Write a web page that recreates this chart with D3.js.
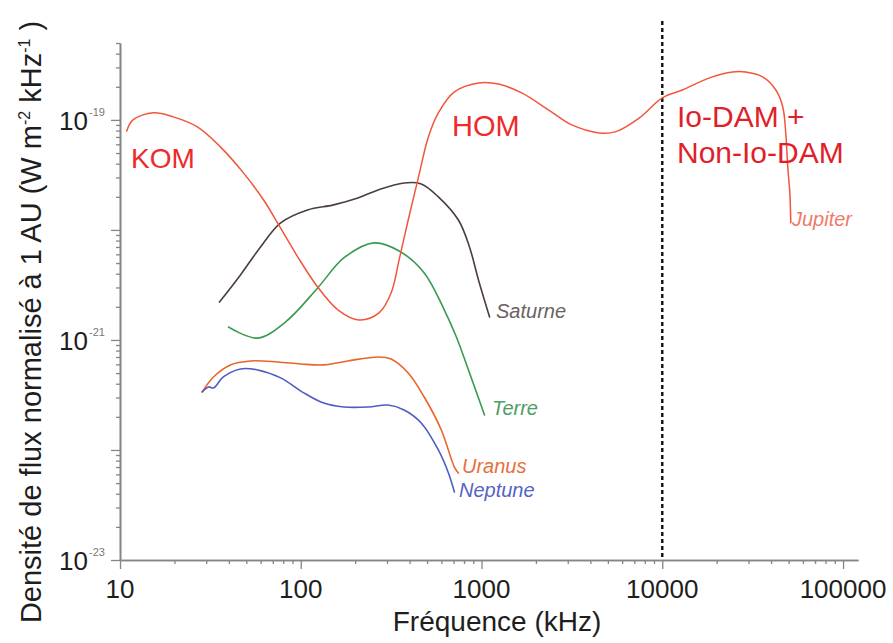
<!DOCTYPE html>
<html><head><meta charset="utf-8">
<script src="https://cdn.jsdelivr.net/npm/d3@7"></script>
<style>body{margin:0;background:#fff} text{font-family:"Liberation Sans",Arial,Helvetica,sans-serif}</style>
</head><body><svg id="c" width="893" height="643"></svg>
<script>
// ---- data (frequency in kHz, flux density in W m^-2 kHz^-1 at 1 AU) ----
const jupiterFreq = [10.9, 11.8, 15.3, 19.7, 26.8, 35.9, 48.2, 62.3, 75.5, 96.2, 124, 161, 210, 271, 316, 350, 393, 447, 508, 577, 708, 962, 1242, 1668, 2355, 3162, 4467, 5479, 7447, 10000, 12915, 18240, 24470, 28900, 35940, 42490, 46420, 48200, 49450, 50770, 51400];
const jupiterFlux = [7.94e-20, 1.0e-19, 1.16e-19, 1.065e-19, 8.64e-20, 5.69e-20, 3.30e-20, 1.87e-20, 1.11e-20, 5.69e-21, 3.03e-21, 1.87e-21, 1.52e-21, 1.76e-21, 2.67e-21, 5.34e-21, 1.23e-20, 2.97e-20, 7.0e-20, 1.16e-19, 1.80e-19, 2.17e-19, 2.12e-19, 1.76e-19, 1.23e-19, 9.0e-20, 7.62e-20, 7.78e-20, 1.04e-19, 1.585e-19, 1.87e-19, 2.41e-19, 2.73e-19, 2.73e-19, 2.46e-19, 1.87e-19, 1.31e-19, 7.62e-20, 3.74e-20, 2.17e-20, 1.16e-20];

const saturneFreq = [35.5, 46.4, 59.9, 77.4, 109, 152, 207, 268, 373, 464, 577, 745, 858, 962, 1108];
const saturneFlux = [2.21e-21, 3.90e-21, 7.0e-21, 1.16e-20, 1.52e-20, 1.69e-20, 1.95e-20, 2.31e-20, 2.67e-20, 2.62e-20, 2.0e-20, 1.23e-20, 7.0e-21, 3.51e-21, 1.62e-21];

const terreFreq = [39.8, 57.7, 82.5, 124, 173, 254, 350, 482, 623, 726, 847, 1039];
const terreFlux = [1.31e-21, 1.04e-21, 1.46e-21, 2.97e-21, 5.56e-21, 7.62e-21, 6.44e-21, 4.07e-21, 1.87e-21, 1.065e-21, 5.34e-22, 2.08e-22];

const uranusFreq = [28.5, 32.9, 40.8, 52.7, 74.5, 100, 134, 182, 268, 316, 393, 482, 599, 708, 745];
const uranusFlux = [3.37e-22, 4.61e-22, 5.93e-22, 6.44e-22, 6.31e-22, 6.05e-22, 5.93e-22, 6.44e-22, 7.0e-22, 6.71e-22, 5.01e-22, 3.03e-22, 1.52e-22, 7.0e-23, 6.18e-23];

const neptuneFreq = [28.5, 30.9, 32.9, 37.3, 46.4, 57.7, 77.4, 104, 134, 173, 236, 304, 373, 464, 577, 656, 708];
const neptuneFlux = [3.37e-22, 3.74e-22, 3.66e-22, 4.61e-22, 5.45e-22, 5.34e-22, 4.52e-22, 3.30e-22, 2.67e-22, 2.46e-22, 2.46e-22, 2.56e-22, 2.31e-22, 1.76e-22, 1.0e-22, 6.18e-23, 4.15e-23];

const xTickValues = [10, 100, 1000, 10000, 100000];
const xTickLabels = ["10", "100", "1000", "10000", "100000"];
const yTickExponents = [-19, -21, -23];
const dividerFreq = 10000;

// ---- drawing ----
const svg = d3.select("#c");
const x = d3.scaleLog().domain([10, 121000]).range([120, 858]);
const y = d3.scaleLog().domain([1e-23, 5e-19]).range([560, 43]);

const axisColor = "#858585";

const xMinor = [];
for (let e = 1; e <= 4; e++) for (let k = 2; k <= 9; k++) xMinor.push(k * Math.pow(10, e));
const yMajor = [1e-19, 1e-20, 1e-21, 1e-22, 1e-23];
const yMinor = [];
for (let e = -23; e <= -20; e++) for (let k = 2; k <= 9; k++) yMinor.push(k * Math.pow(10, e));
[2e-19, 3e-19, 4e-19, 5e-19].forEach(v => yMinor.push(v));

function styleAxis(g) {
  g.selectAll("path.domain").attr("stroke", axisColor).attr("stroke-width", 1.6);
  g.selectAll(".tick line").attr("stroke", axisColor).attr("stroke-width", 1.3);
  g.selectAll(".tick text").remove();
}

svg.append("g").attr("transform", "translate(0,560)")
  .call(d3.axisBottom(x).tickValues(xMinor).tickSize(4).tickSizeOuter(0).tickFormat(""))
  .call(styleAxis);
svg.append("g").attr("transform", "translate(0,560)")
  .call(d3.axisBottom(x).tickValues(xTickValues).tickSize(9).tickSizeOuter(0).tickFormat(""))
  .call(styleAxis);
svg.append("g").attr("transform", "translate(120,0)")
  .call(d3.axisLeft(y).tickValues(yMinor).tickSize(4).tickSizeOuter(0).tickFormat(""))
  .call(styleAxis);
svg.append("g").attr("transform", "translate(120,0)")
  .call(d3.axisLeft(y).tickValues(yMajor).tickSize(9).tickSizeOuter(0).tickFormat(""))
  .call(styleAxis);

// x tick labels
svg.append("g").selectAll("text").data(xTickValues).join("text")
  .attr("x", d => x(d)).attr("y", 598)
  .attr("text-anchor", "middle").attr("font-size", 26).attr("fill", "#1e1e1e")
  .text((d, i) => xTickLabels[i]);

// y tick labels
const yl = svg.append("g").selectAll("g").data(yTickExponents).join("g");
yl.append("text").attr("x", 88).attr("y", d => y(Math.pow(10, d)) + 10)
  .attr("text-anchor", "end").attr("font-size", 26).attr("fill", "#1e1e1e").text("10");
yl.append("text").attr("x", 89).attr("y", d => y(Math.pow(10, d)) - 4)
  .attr("text-anchor", "start").attr("font-size", 11).attr("fill", "#777").text(d => String(d));

// axis titles
svg.append("text").attr("x", 497).attr("y", 631).attr("text-anchor", "middle")
  .attr("font-size", 28).attr("fill", "#1e1e1e").text("Fréquence (kHz)");

const yt = svg.append("text").attr("transform", "translate(41,322) rotate(-90)")
  .attr("text-anchor", "middle").attr("font-size", 29).attr("fill", "#1e1e1e");
yt.append("tspan").text("Densité de flux normalisé à 1 AU (W m");
yt.append("tspan").attr("font-size", 16).attr("dy", -11).text("-2");
yt.append("tspan").attr("dy", 11).text(" kHz");
yt.append("tspan").attr("font-size", 16).attr("dy", -11).text("-1");
yt.append("tspan").attr("dy", 11).text(" )");

// divider
svg.append("line").attr("x1", x(dividerFreq)).attr("x2", x(dividerFreq))
  .attr("y1", 21).attr("y2", 560)
  .attr("stroke", "#111").attr("stroke-width", 2.4).attr("stroke-dasharray", "4,3");

// spectra
const line = d3.line().x(d => x(d[0])).y(d => y(d[1])).curve(d3.curveCatmullRom.alpha(0.5));
const series = [
  {f: saturneFreq, v: saturneFlux, color: "#4b3e3e", w: 1.6},
  {f: terreFreq, v: terreFlux, color: "#3a9a52", w: 1.6},
  {f: uranusFreq, v: uranusFlux, color: "#e8642c", w: 1.6},
  {f: neptuneFreq, v: neptuneFlux, color: "#4d5cc2", w: 1.6},
  {f: jupiterFreq, v: jupiterFlux, color: "#f2553c", w: 1.5}
];
svg.append("g").selectAll("path").data(series).join("path")
  .attr("d", s => line(s.f.map((f, i) => [f, s.v[i]])))
  .attr("fill", "none").attr("stroke", s => s.color).attr("stroke-width", s => s.w)
  .attr("stroke-linejoin", "round").attr("stroke-linecap", "round");

// series name labels (italic)
const names = [
  {t: "Jupiter", x: 792, y: 226, c: "#f07a68"},
  {t: "Saturne", x: 496, y: 318, c: "#6b6262"},
  {t: "Terre", x: 492, y: 415, c: "#4d9c62"},
  {t: "Uranus", x: 462, y: 473, c: "#e8703c"},
  {t: "Neptune", x: 459, y: 497, c: "#5563c4"}
];
svg.append("g").selectAll("text").data(names).join("text")
  .attr("x", d => d.x).attr("y", d => d.y).attr("font-size", 20).attr("font-style", "italic")
  .attr("fill", d => d.c).text(d => d.t);

// component labels
const comps = [
  {t: "KOM", x: 131, y: 168, s: 28, c: "#ee2b2b"},
  {t: "HOM", x: 452, y: 136, s: 29, c: "#ee2b2b"},
  {t: "Io-DAM +", x: 677, y: 127, s: 30, c: "#e01f2b"},
  {t: "Non-Io-DAM", x: 677, y: 163, s: 30, c: "#e01f2b"}
];
svg.append("g").selectAll("text").data(comps).join("text")
  .attr("x", d => d.x).attr("y", d => d.y).attr("font-size", d => d.s)
  .attr("fill", d => d.c).text(d => d.t);
</script></body></html>
